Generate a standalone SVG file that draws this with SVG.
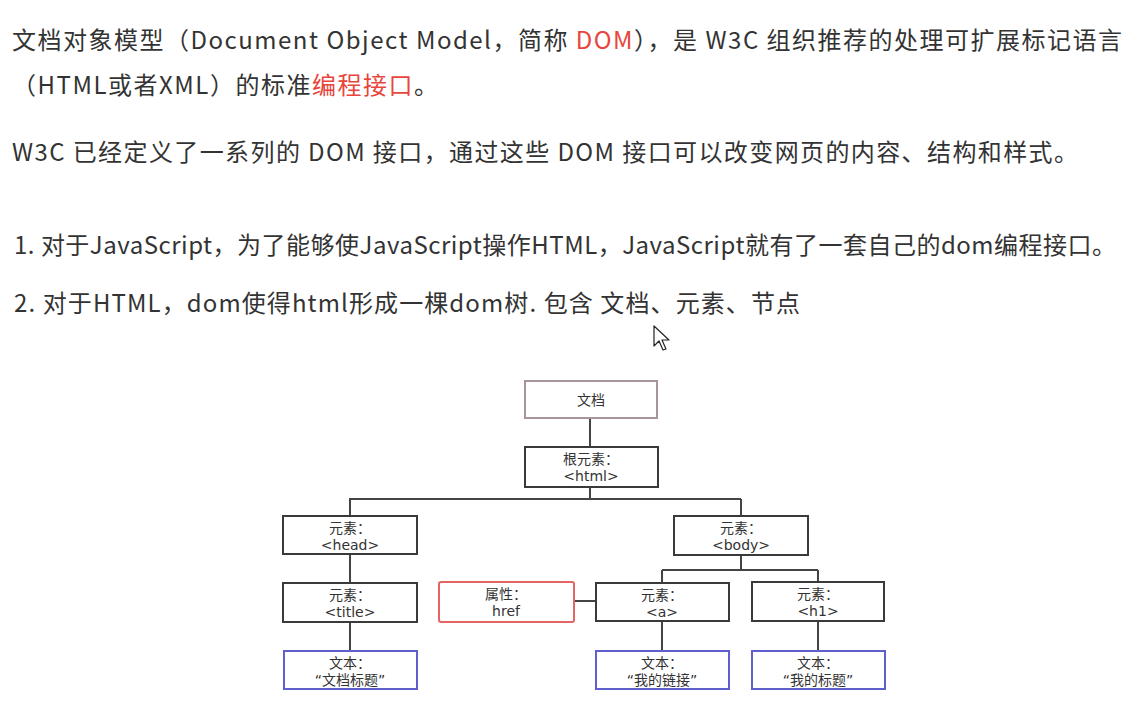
<svg xmlns="http://www.w3.org/2000/svg" width="1136" height="710" viewBox="0 0 1136 710">
<style>
.p{font-family:"Noto Sans CJK SC","Noto Sans",sans-serif;font-size:24px;fill:#333}
.r{fill:#e8453c}
.b{fill:#fff;stroke:#3a3a3a;stroke-width:2}
.doc{fill:#fff;stroke:#a8949e;stroke-width:2}
.attr{fill:#fff;stroke:#e46464;stroke-width:2}
.txt{fill:#fff;stroke:#6060cc;stroke-width:2}
.l{font-family:"DejaVu Sans","Noto Sans CJK SC",sans-serif;font-size:14px;fill:#333;text-anchor:middle}
.c{fill:none;stroke:#444;stroke-width:2}
</style>
<rect width="1136" height="710" fill="#fff"/>
<g id="paragraphs">
<text class="p" x="12" y="49" textLength="1110" lengthAdjust="spacing">文档对象模型（Document Object Model，简称 <tspan class="r">DOM</tspan>），是 W3C 组织推荐的处理可扩展标记语言</text>
<text class="p" x="12" y="94" textLength="426" lengthAdjust="spacing">（HTML或者XML）的标准<tspan class="r">编程接口</tspan>。</text>
<text class="p" x="12" y="161" textLength="1066" lengthAdjust="spacing">W3C 已经定义了一系列的 DOM 接口，通过这些 DOM 接口可以改变网页的内容、结构和样式。</text>
<text class="p" x="14" y="254" textLength="1102" lengthAdjust="spacing">1. 对于JavaScript，为了能够使JavaScript操作HTML，JavaScript就有了一套自己的dom编程接口。</text>
<text class="p" x="14" y="312" textLength="786" lengthAdjust="spacing">2. 对于HTML，dom使得html形成一棵dom树. 包含 文档、元素、节点</text>
</g>
<g id="cursor"><path d="M654 326 L654 346 L659 341 L663 350 L666 349 L662 340 L669 340 Z" fill="#fff" stroke="#222" stroke-width="1.2" stroke-linejoin="round"/></g>
<g id="connectors">
<path class="c" d="M590 418V447M590 487V499M349 499H741M350 499V516M741 499V516M350 554V583M350 622V651M741 555V570M662 570H818M662 570V583M818 570V582M574 601H596M662 621V651M818 621V651"/>
</g>
<g id="n-doc"><rect class="doc" x="525" y="381" width="132" height="37"/><text class="l" x="591" y="405">文档</text></g>
<g id="n-html"><rect class="b" x="525" y="447" width="133" height="40"/><text class="l" x="591" y="464">根元素：</text><text class="l" x="591" y="481">&lt;html&gt;</text></g>
<g id="n-head"><rect class="b" x="283" y="516" width="134" height="38"/><text class="l" x="350" y="533">元素：</text><text class="l" x="350" y="550">&lt;head&gt;</text></g>
<g id="n-body"><rect class="b" x="674" y="516" width="134" height="39"/><text class="l" x="741" y="533">元素：</text><text class="l" x="741" y="550">&lt;body&gt;</text></g>
<g id="n-title"><rect class="b" x="283" y="583" width="134" height="39"/><text class="l" x="350" y="600">元素：</text><text class="l" x="350" y="617">&lt;title&gt;</text></g>
<g id="n-href"><rect class="attr" x="439" y="582" width="135" height="40" rx="2"/><text class="l" x="506" y="599">属性：</text><text class="l" x="506" y="616">href</text></g>
<g id="n-a"><rect class="b" x="596" y="583" width="133" height="38"/><text class="l" x="662" y="600">元素：</text><text class="l" x="662" y="617">&lt;a&gt;</text></g>
<g id="n-h1"><rect class="b" x="752" y="582" width="132" height="39"/><text class="l" x="818" y="599">元素：</text><text class="l" x="818" y="616">&lt;h1&gt;</text></g>
<g id="n-t1"><rect class="txt" x="284" y="651" width="133" height="38"/><text class="l" x="350" y="668">文本：</text><text class="l" x="350" y="685">“文档标题”</text></g>
<g id="n-t2"><rect class="txt" x="596" y="651" width="133" height="38"/><text class="l" x="662" y="668">文本：</text><text class="l" x="662" y="685">“我的链接”</text></g>
<g id="n-t3"><rect class="txt" x="752" y="651" width="133" height="38"/><text class="l" x="818" y="668">文本：</text><text class="l" x="818" y="685">“我的标题”</text></g>
</svg>
